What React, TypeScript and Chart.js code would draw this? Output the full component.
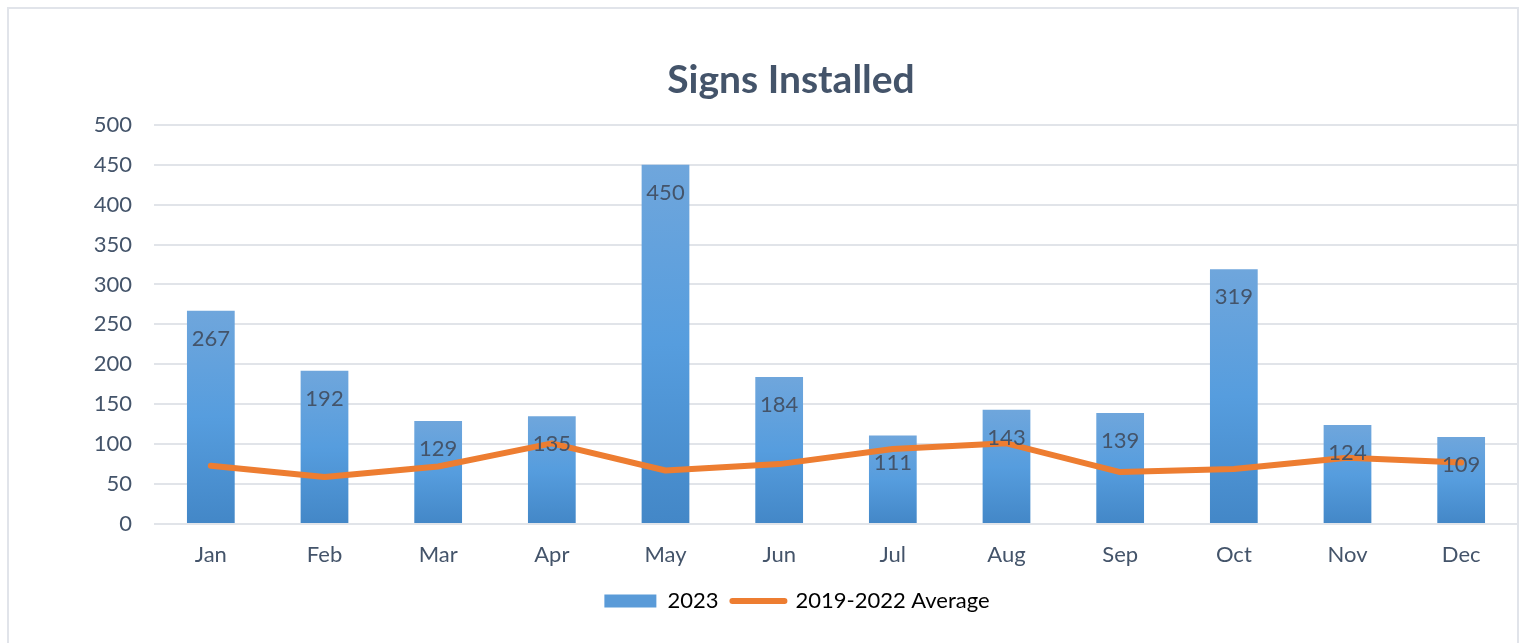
import React, { useEffect, useRef } from "react";
import { Chart, registerables } from "chart.js";

Chart.register(...registerables);

const months = ["Jan", "Feb", "Mar", "Apr", "May", "Jun", "Jul", "Aug", "Sep", "Oct", "Nov", "Dec"];
const signs2023 = [267, 192, 129, 135, 450, 184, 111, 143, 139, 319, 124, 109];
const avg2019to2022 = [73, 59, 72, 101, 67, 75, 94, 101, 65, 69, 83, 77];
const yTicks = [0, 50, 100, 150, 200, 250, 300, 350, 400, 450, 500];

const TEXT = "#44546A";
const ORANGE = "#ED7D31";
const FONT = "Lato, 'Open Sans', sans-serif";

const barLabels = {
  id: "barLabels",
  afterDatasetsDraw(chart: any) {
    const meta = chart.getDatasetMeta(1);
    const ctx = chart.ctx;
    ctx.save();
    ctx.font = `22px ${FONT}`;
    ctx.fillStyle = TEXT;
    ctx.textAlign = "center";
    ctx.textBaseline = "middle";
    meta.data.forEach((el: any, i: number) => {
      ctx.fillText(String(signs2023[i]), el.x, el.y + 28);
    });
    ctx.restore();
  },
};

// nudge title and legend horizontally to match the original's placement
const boxShift = {
  id: "boxShift",
  afterLayout(chart: any) {
    const t = chart.titleBlock;
    if (t) {
      t.left += 32;
      t.right += 32;
    }
    const l = chart.legend;
    if (l) {
      l.left += 38;
      l.right += 38;
    }
  },
};

function barGradient(c: any) {
  const chart = c.chart;
  if (!chart.chartArea || c.type !== "data") return "#5B9BD5";
  const y = chart.scales.y;
  const top = y.getPixelForValue(c.raw);
  const bottom = y.getPixelForValue(0);
  const g = chart.ctx.createLinearGradient(0, top, 0, bottom);
  g.addColorStop(0, "#6FA6DC");
  g.addColorStop(0.5, "#569DDE");
  g.addColorStop(1, "#4387C7");
  return g;
}

export default function App() {
  const ref = useRef<HTMLCanvasElement | null>(null);

  useEffect(() => {
    if (!ref.current) return;
    const chart = new Chart(ref.current, {
      type: "bar",
      data: {
        labels: months,
        datasets: [
          {
            type: "line",
            label: "2019-2022 Average",
            data: avg2019to2022,
            borderColor: ORANGE,
            backgroundColor: ORANGE,
            borderWidth: 6,
            pointRadius: 0,
            tension: 0,
            order: 0,
            borderCapStyle: "round",
            borderJoinStyle: "round",
          } as any,
          {
            type: "bar",
            label: "2023",
            data: signs2023,
            backgroundColor: barGradient,
            barPercentage: 0.42,
            categoryPercentage: 1,
            order: 1,
          } as any,
        ],
      },
      options: {
        animation: false,
        responsive: false,
        layout: { padding: { top: 57, right: 10, bottom: 21, left: 0 } },
        plugins: {
          tooltip: { enabled: false },
          title: {
            display: true,
            text: "Signs Installed",
            color: TEXT,
            font: { family: FONT, size: 39, weight: "bold" },
            padding: { top: 0, bottom: 21 },
          },
          legend: {
            position: "bottom",
            labels: {
              color: TEXT,
              font: { family: FONT, size: 22 },
              usePointStyle: true,
              pointStyleWidth: 52,
              boxHeight: 13,
              padding: 14,
              generateLabels: () => [
                {
                  text: "2023",
                  fillStyle: "#5A9BD8",
                  strokeStyle: "rgba(0,0,0,0)",
                  lineWidth: 0,
                  pointStyle: "rect",
                  datasetIndex: 1,
                  hidden: false,
                } as any,
                {
                  text: "2019-2022 Average",
                  fillStyle: ORANGE,
                  strokeStyle: ORANGE,
                  lineWidth: 6,
                  lineCap: "round",
                  pointStyle: "line",
                  datasetIndex: 0,
                  hidden: false,
                } as any,
              ],
            },
          },
        },
        scales: {
          x: {
            offset: true,
            grid: { display: false },
            border: { display: false },
            ticks: { color: TEXT, font: { family: FONT, size: 22 }, padding: 10 },
            afterFit: (s: any) => {
              s.height = 52;
            },
          },
          y: {
            min: 0,
            max: 500,
            afterBuildTicks: (s: any) => {
              s.ticks = yTicks.map((v) => ({ value: v }));
            },
            grid: { color: "#E1E4E9", lineWidth: 2, drawTicks: false },
            border: { display: false },
            ticks: { color: TEXT, font: { family: FONT, size: 22 }, padding: 22 },
            afterFit: (s: any) => {
              s.width = 154;
            },
          },
        },
      },
      plugins: [barLabels, boxShift],
    });
    return () => chart.destroy();
  }, []);

  return (
    <>
      <div
        style={{
          position: "fixed",
          left: 7,
          top: 7,
          width: 1512,
          height: 636,
          boxSizing: "border-box",
          border: "2px solid #E1E4EA",
          borderBottom: "none",
        }}
      />
      <canvas
        ref={ref}
        width={1528}
        height={643}
        style={{ position: "fixed", left: 0, top: 0, width: 1528, height: 643, display: "block" }}
      />
    </>
  );
}
